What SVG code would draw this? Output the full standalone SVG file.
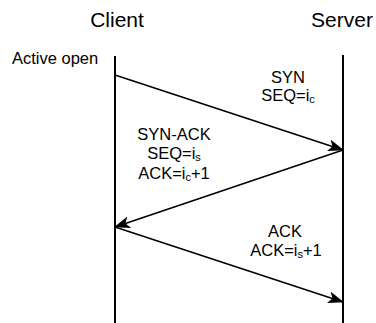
<svg xmlns="http://www.w3.org/2000/svg" width="376" height="323" viewBox="0 0 376 323">
<style>
.t{font-family:"Liberation Sans",Arial,sans-serif;fill:#000;text-anchor:middle}
.h{font-size:21px}
.s{font-size:16.5px}
.sub{font-size:11px}
.life{stroke:#000;stroke-width:2;fill:none}
.msg{stroke:#000;stroke-width:1.6;fill:none}
</style>
<defs>
<marker id="arr" viewBox="0 0 16 12" refX="15" refY="6" markerWidth="16" markerHeight="12" markerUnits="userSpaceOnUse" orient="auto">
<path d="M0,0 L16,6 L0,12 L4,6 Z" fill="#000"/>
</marker>
</defs>
<g id="client">
<text class="t h" x="117" y="27">Client</text>
<text class="t s" x="12" y="64" style="text-anchor:start">Active open</text>
<line class="life" x1="115" y1="56" x2="115" y2="323"/>
</g>
<g id="server">
<text class="t h" x="342" y="27">Server</text>
<line class="life" x1="343" y1="55" x2="343" y2="323"/>
</g>
<g id="connectors">
<line class="msg" x1="115" y1="75" x2="343" y2="150" marker-end="url(#arr)"/>
<line class="msg" x1="343" y1="150" x2="115" y2="227" marker-end="url(#arr)"/>
<line class="msg" x1="115" y1="227" x2="343" y2="302" marker-end="url(#arr)"/>
</g>
<g id="labels">
<text class="t s" x="288" y="83">SYN</text>
<text class="t s" x="288" y="101">SEQ=i<tspan class="sub" dy="2">c</tspan></text>
<text class="t s" x="174" y="140">SYN-ACK</text>
<text class="t s" x="174" y="159">SEQ=i<tspan class="sub" dy="2">s</tspan></text>
<text class="t s" x="174" y="179">ACK=i<tspan class="sub" dy="2">c</tspan><tspan dy="-2">+1</tspan></text>
<text class="t s" x="285" y="237">ACK</text>
<text class="t s" x="286" y="256">ACK=i<tspan class="sub" dy="2">s</tspan><tspan dy="-2">+1</tspan></text>
</g>
</svg>
